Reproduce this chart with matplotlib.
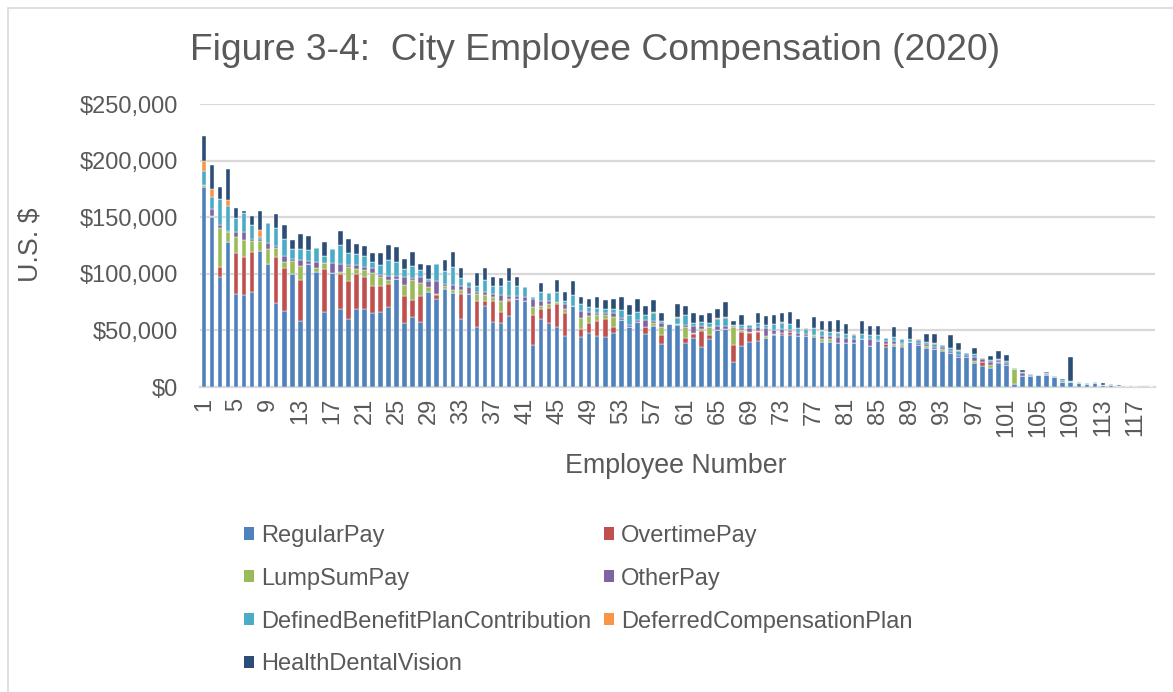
import matplotlib
matplotlib.use("Agg")
import matplotlib.pyplot as plt
from matplotlib.ticker import FuncFormatter
from matplotlib.patches import Rectangle, Patch
import numpy as np

plt.rcParams['font.family'] = ['Liberation Sans', 'DejaVu Sans']

# Values in thousands of U.S. dollars, employees 1..119
regular_pay = [177, 150, 96.8, 128, 82, 81, 84, 120, 108.5, 74, 67.4, 99.4, 58, 108.8, 101.5, 66, 101, 68.8, 59.7, 68.8,
               68.8, 65, 65.9, 70.6, 95.3, 56.2, 62, 57.4, 83.5, 77.4, 86.8, 82.6, 60.3, 81.8, 53, 71.8, 57, 56.2, 62.4, 77.6,
               76.3, 36.8, 60.3, 56.2, 52.6, 45.3, 71.8, 44.4, 47.4, 45, 43.8, 48, 59, 53.2, 57.6, 46.5, 53.8, 37.6, 55.3, 54.4,
               38.5, 43, 35.6, 42, 50.3, 51.5, 22, 36.5, 39.7, 40.6, 43, 45.9, 45.9, 45.6, 45, 45, 44.4, 40, 39.4, 38.5,
               38.7, 39, 42.4, 36.5, 40.3, 35.6, 36.5, 35.6, 40, 36.8, 34.1, 33.5, 31.8, 30.3, 26.2, 26.2, 21.5, 18.5, 17, 21.5,
               19, 2.4, 10, 9.7, 10.3, 10.6, 8.8, 4.7, 4.1, 3.2, 2.6, 3.2, 1.8, 1.8, 1.2, 0.6, 0.6, 0.4, 0.2]
overtime_pay = [0, 0, 9, 0, 36, 34, 35, 0, 0, 41, 37.6, 0, 36.8, 0, 0, 38, 0, 31, 33.8, 31,
                28.8, 23.8, 23.5, 20.6, 0, 24.4, 15, 23.2, 0, 3.5, 0, 0, 22, 0, 22.6, 3.8, 19.4, 10, 13.2, 0,
                0, 26.8, 8.8, 13.8, 20.6, 20.3, 0, 6.8, 9.4, 13.5, 16.2, 5.3, 0, 0, 0, 6.8, 0, 8.2, 0, 0,
                5.2, 3.5, 14.1, 3.8, 0, 0, 15, 12.4, 7.6, 8.2, 0, 0, 1.5, 2.9, 0, 0, 0, 0, 0, 0,
                0, 0, 0, 0, 0, 2.4, 0, 1, 0, 0, 0, 0, 0, 0, 0, 0, 0, 3.8, 0, 0.5,
                0.5, 0, 0, 0, 0, 0, 0, 0, 0, 0, 0, 0, 0, 0, 0, 0, 0, 0, 0]
lump_sum_pay = [1.5, 1.5, 34.7, 9, 14.7, 14.7, 9.7, 9.4, 13, 7.4, 5.3, 11.8, 11.8, 0, 3.8, 5.3, 0, 1.8, 12.4, 4.7,
                5.9, 11.8, 7.4, 3.5, 0, 9.7, 17.6, 11.2, 4.7, 1.2, 2, 3.2, 3.5, 0.6, 6.5, 5.6, 3, 9.4, 2, 0,
                0, 7.4, 2.4, 3, 1.8, 3, 0, 9.4, 5.9, 5, 3.2, 8.2, 0, 0, 0, 0, 2.4, 6.8, 0, 1,
                9, 0.9, 1.2, 6.8, 0, 0, 15.6, 1.5, 0.9, 0.9, 2, 0.9, 0, 0, 0, 0, 1.2, 2, 2.6, 0,
                0, 0, 0, 0, 0, 0, 1.2, 1, 0, 0, 2, 0, 1.8, 0, 0, 0, 1.8, 0, 2.4, 0,
                0, 13.2, 0, 0, 0, 0, 0, 0, 0, 0, 0, 0, 0, 0, 0, 0, 0, 0, 0]
other_pay = [0, 6, 3, 1, 4, 6.8, 2, 1.5, 5.9, 1.8, 5, 2, 5.9, 2.4, 5, 0.6, 8.5, 7.4, 2, 3,
             2.4, 4.4, 2.4, 3, 2.4, 6.8, 2, 5, 5.6, 11.2, 2.4, 4.4, 3.5, 5.6, 2, 2.4, 2.4, 5.9, 2.4, 2.4,
             2.8, 6.8, 4.7, 3.2, 0, 4.7, 0, 6.8, 3.8, 2, 1.8, 3.5, 1.8, 2, 2, 5.9, 2, 3.5, 0, 0,
             1.9, 6.5, 3.2, 0, 3.5, 2.4, 1.2, 1.8, 4.1, 2.9, 6.8, 3.5, 3.5, 1.8, 2.9, 1.8, 0, 2.9, 2.9, 5.9,
             4.4, 3.8, 0, 5.6, 1.5, 2.9, 3.2, 1.5, 0, 1.8, 1.5, 2, 2, 1.8, 2, 2, 3.5, 2, 2.9, 1.5,
             1.5, 0.6, 2, 1.2, 0, 1.2, 0, 0, 0, 0, 0, 0, 0, 0, 0, 0, 0, 0, 0]
defined_benefit = [12, 10, 22.6, 21.8, 12.6, 16.8, 12.6, 2, 17.4, 16, 15.6, 8.8, 9.4, 9.4, 12.6, 5.9, 12, 16.2, 10.6, 10.3,
                   10, 5, 8.8, 14.7, 12.6, 7.4, 10.6, 6.8, 1.8, 15.3, 11.5, 16.2, 7.4, 5, 5.3, 11.2, 7.6, 7.4, 13.8, 9.4,
                   9.3, 2, 7.6, 7, 8.8, 3, 9.4, 5.9, 3.8, 4.4, 3.8, 4.1, 7.6, 8.8, 7, 4.4, 7.4, 2, 0.5, 5.9,
                   8.8, 3, 3.5, 4.1, 6.2, 7.4, 0.9, 3, 2.4, 4.1, 3, 5, 5.3, 5.3, 3.8, 4.4, 6.2, 4.7, 3.8, 3.5,
                   4.1, 3.5, 4.1, 3.5, 3.8, 2, 2.9, 2.9, 2, 2.9, 2.4, 2.9, 1.2, 2.6, 3.8, 2, 2, 0.9, 1.5, 1.5,
                   2, 0.6, 0.9, 0.9, 0.3, 0.6, 0.6, 1.5, 1.2, 1.2, 0.9, 0.9, 0, 1.2, 0, 0.3, 0.2, 0.1, 0]
deferred_comp = [9, 7, 0, 5, 0, 0, 0, 6, 0, 0, 0, 0, 0, 0, 0, 0, 0, 0, 0, 0,
                 0, 0, 0, 0, 0, 0, 0, 0, 0, 0, 0, 0, 0, 0, 0, 0, 0, 0, 0, 0,
                 0, 0, 0, 0, 0, 0, 0, 0, 0, 0, 0, 0, 0, 0, 0, 0, 0.9, 0, 0, 0.9,
                 0, 0, 0, 0, 0.9, 0.5, 0, 0, 0, 0, 0, 0, 0.9, 0, 0, 0.9, 0, 0.5, 0, 0.9,
                 0, 0.5, 0.5, 0, 0, 0, 0.5, 0, 0, 0.8, 0, 0.5, 0, 0, 0.6, 0, 0, 0, 0, 0,
                 0, 0, 0, 0, 0, 0, 0, 0, 0, 0, 0, 0, 0, 0, 0, 0, 0, 0, 0]
health_dental_vision = [22.6, 21.5, 11, 28, 9, 2, 8, 17, 0, 12.4, 12.4, 8, 13.2, 12.6, 0, 12.4, 0, 12.4, 12.4, 8.2,
                        8.8, 8.2, 10.3, 12.6, 13, 8.5, 12.4, 5.3, 12.4, 0, 9.7, 12.6, 8, 0, 11.2, 10.6, 7.6, 7.6, 11.2, 7.6,
                        0, 0, 8.2, 0, 10.6, 8, 12.6, 5.9, 7.6, 9.4, 8, 8.2, 11.2, 8.2, 11.2, 7.6, 10.3, 7.6, 0, 10.9,
                        8.1, 8.2, 5.6, 9.1, 7.6, 13.2, 3.2, 8.2, 0, 9.1, 8.2, 8.2, 8, 10.3, 8, 0, 10.3, 8.5, 9.7, 10.3,
                        8.5, 0, 11.2, 8.5, 8.5, 0, 8.5, 0, 11.2, 0, 6.8, 8.2, 0, 11.2, 6.5, 0, 5.3, 0, 3.5, 6.5,
                        5, 0, 1.8, 0, 0, 0.9, 0, 0.9, 20.9, 0, 0, 0, 1.5, 0, 0.6, 0, 0, 0, 0]

series_names = ["RegularPay", "OvertimePay", "LumpSumPay", "OtherPay",
                "DefinedBenefitPlanContribution", "DeferredCompensationPlan", "HealthDentalVision"]
series_values = [regular_pay, overtime_pay, lump_sum_pay, other_pay,
                 defined_benefit, deferred_comp, health_dental_vision]
series_colors = ["#4F81BD", "#C0504D", "#9BBB59", "#8064A2", "#4BACC6", "#F79646", "#2C4D75"]

employees = np.arange(1, len(regular_pay) + 1)
tick_labels = [str(n) for n in range(1, 118, 4)]

W, H = 1173, 692
fig = plt.figure(figsize=(W / 100, H / 100), dpi=100)
ax = fig.add_axes([200 / W, 1 - 387 / H, 955 / W, 283 / H])

text_color = "#595959"
grid_color = "#D9D9D9"

bottom = np.zeros(len(employees))
handles = []
for name, vals, col in zip(series_names, series_values, series_colors):
    v = np.array(vals, dtype=float) * 1000
    ax.bar(employees, v, bottom=bottom, width=0.56, color=col,
           edgecolor="white", linewidth=0.3, zorder=3)
    bottom += v
    handles.append(Patch(facecolor=col, edgecolor="none", label=name))

ax.set_xlim(0.5, len(employees) + 0.5)
ax.set_ylim(0, 250000)
ax.set_yticks(np.arange(0, 250001, 50000))
ax.yaxis.set_major_formatter(FuncFormatter(lambda v, p: "${:,.0f}".format(v)))
ax.set_xticks(np.arange(1, 118, 4))
ax.set_xticklabels(tick_labels, rotation=90)
ax.tick_params(axis="both", length=0, colors=text_color, labelsize=17)
ax.tick_params(axis="y", pad=16)
ax.tick_params(axis="x", pad=8)
ax.grid(axis="y", color=grid_color, linewidth=1.6, zorder=0)
for s in ["top", "right", "left"]:
    ax.spines[s].set_visible(False)
ax.spines["bottom"].set_color(grid_color)
ax.spines["bottom"].set_linewidth(1.6)

fig.text(595 / W, 1 - 51 / H, "Figure 3-4:  City Employee Compensation (2020)",
         ha="center", va="center", fontsize=26.8, color=text_color)
fig.text(676 / W, 1 - 466 / H, "Employee Number", ha="center", va="center",
         fontsize=19.3, color=text_color)
fig.text(31 / W, 1 - 245 / H, "U.S. $", ha="center", va="center", rotation=90,
         fontsize=19.3, color=text_color)

order = [0, 2, 4, 6, 1, 3, 5]
leg = fig.legend([handles[i] for i in order], [series_names[i] for i in order],
                 ncol=2, loc="upper left", bbox_to_anchor=(244 / W, 1 - 525 / H),
                 frameon=False, fontsize=17, handlelength=0.42, handleheight=0.42,
                 handletextpad=0.3, labelspacing=0.88, columnspacing=0.53,
                 borderpad=0, borderaxespad=0)
for t in leg.get_texts():
    t.set_color(text_color)

fig.add_artist(Rectangle((8 / W, -0.01), 1.0, 1 - 8 / H + 0.01, transform=fig.transFigure,
                         fill=False, edgecolor=grid_color, linewidth=1.2))

fig.savefig("out.png", dpi=100)
